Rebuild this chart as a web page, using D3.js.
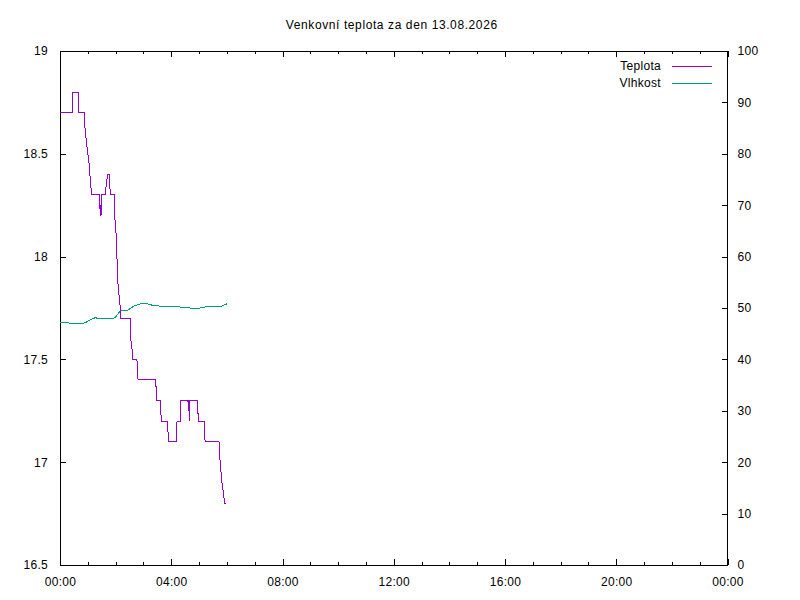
<!DOCTYPE html>
<html><head><meta charset="utf-8">
<script src="https://cdn.jsdelivr.net/npm/d3@7"></script>
<style>
html,body{margin:0;padding:0;background:#fff;}
text{font-family:"Liberation Sans",Arial,sans-serif;font-size:12px;fill:#000;letter-spacing:0.3px;}
</style></head>
<body>
<svg id="c" width="800" height="600"></svg>
<script>
const title = "Venkovní teplota za den 13.08.2026";
const seriesNames = ["Teplota", "Vlhkost"];
const seriesColors = ["#9400d3", "#009e73"];
const xTickMinutes = [0, 240, 480, 720, 960, 1200, 1440];
const xTickLabels = ["00:00", "04:00", "08:00", "12:00", "16:00", "20:00", "00:00"];
const yLeftTicks = [16.5, 17, 17.5, 18, 18.5, 19];
const yRightTicks = [0, 10, 20, 30, 40, 50, 60, 70, 80, 90, 100];
// [minute of day, temperature °C]
const teplota = [
 [0,18.7],[26,18.7],[27,18.75],[28,18.8],[39,18.8],[40,18.75],[41,18.7],
 [52,18.7],[53,18.65],[55,18.6],[57.5,18.55],[60,18.5],[63,18.45],[66,18.35],[69,18.3],
 [85,18.3],[86,18.25],[87,18.2],[88,18.25],[88.5,18.2],[90.5,18.3],[98.5,18.3],[99.5,18.35],[103,18.4],
 [107,18.4],[107.5,18.35],[108.5,18.3],[117,18.3],[118,18.2],[119.5,18.15],[121.5,18.1],
 [123.5,17.95],[125.5,17.85],[128,17.8],[130,17.75],[131.5,17.7],
 [151.5,17.7],[152.5,17.6],[155.5,17.55],[157.5,17.5],[166,17.5],[167,17.45],[168.5,17.4],
 [206.5,17.4],[207.5,17.35],[208.5,17.3],[216.5,17.3],[217.5,17.25],[218.5,17.2],
 [232.5,17.2],[233.5,17.1],[250.5,17.1],[251.5,17.15],[252.5,17.2],[259.5,17.2],[260.5,17.3],
 [276,17.3],[277,17.25],[278,17.3],[279,17.2],[280,17.3],[296.5,17.3],[297.5,17.25],[298.5,17.2],
 [311,17.2],[312,17.15],[313,17.1],[343,17.1],[344,17.05],[345.5,17.0],[347.5,16.95],
 [349.5,16.9],[352.5,16.85],[355.5,16.8],[358,16.8]
];
// [minute of day, humidity %]
const vlhkost = [
 [0,47.2],[18,47.1],[30,46.95],[41,47.0],[50,47.0],[58,47.3],[65,47.7],[75.5,48.1],
 [86,47.95],[104,47.9],[112,47.9],[119,48.1],[126,49.0],[133,49.6],[140,49.5],[147,49.6],
 [158,50.3],[169,50.7],[180,50.95],[190.5,50.75],[201,50.5],[212,50.4],[226.6,50.3],
 [244.5,50.35],[259,50.2],[273,50.1],[284,49.95],[295,49.9],[309,50.1],[316.6,50.25],
 [331,50.2],[345,50.2],[352,50.5],[360,50.8]
];

const L = 60, R = 727.5, T = 51, B = 565;
const svg = d3.select("#c");
const x = d3.scaleLinear().domain([0, 1440]).range([L, R]);
const yL = d3.scaleLinear().domain([16.5, 19]).range([B, T]);
const yR = d3.scaleLinear().domain([0, 100]).range([B, T]);

// title
svg.append("text").attr("x", (L + R) / 2 - 2).attr("y", 29).attr("text-anchor", "middle")
  .style("letter-spacing", "0.6px").text(title);

// minor x ticks (hourly) top & bottom
const minor = d3.range(0, 1441, 60).filter(m => m % 240 !== 0);
const gAx = svg.append("g").attr("stroke", "#000").attr("stroke-width", 1);
minor.forEach(m => {
  const xp = Math.round(x(m)) + 0.5;
  gAx.append("line").attr("x1", xp).attr("x2", xp).attr("y1", B).attr("y2", B - 3);
  gAx.append("line").attr("x1", xp).attr("x2", xp).attr("y1", T).attr("y2", T + 3);
});

// bottom axis
const xAxis = d3.axisBottom(x).tickValues(xTickMinutes)
  .tickFormat((d, i) => xTickLabels[i]).tickSize(-6).tickSizeOuter(0).tickPadding(12);
const gx = svg.append("g").attr("transform", `translate(0,${B})`).call(xAxis);
// top axis (mirror ticks, no labels)
const gxt = svg.append("g").attr("transform", `translate(0,${T})`)
  .call(d3.axisTop(x).tickValues(xTickMinutes).tickFormat("").tickSize(-6).tickSizeOuter(0));
// left axis
const gl = svg.append("g").attr("transform", `translate(${L},0)`)
  .call(d3.axisLeft(yL).tickValues(yLeftTicks).tickFormat(d3.format("~g")).tickSize(-6).tickSizeOuter(0).tickPadding(12));
// right axis
const gr = svg.append("g").attr("transform", `translate(${R},0)`)
  .call(d3.axisRight(yR).tickValues(yRightTicks).tickFormat(d3.format("d")).tickSize(-6).tickSizeOuter(0).tickPadding(10));

[gx, gxt, gl, gr].forEach(g => {
  g.select(".domain").remove();
  g.selectAll("text").attr("font-family", "Liberation Sans, Arial, sans-serif").attr("font-size", 12).attr("fill", "#000");
  g.selectAll("line").attr("stroke", "#000").attr("shape-rendering", "crispEdges");
});

// frame
svg.append("rect").attr("x", L).attr("y", T).attr("width", R - L).attr("height", B - T)
  .attr("fill", "none").attr("stroke", "#000").attr("stroke-width", 1).attr("shape-rendering", "crispEdges");

// lines
const lineT = d3.line().x(d => x(d[0])).y(d => yL(d[1]));
const lineH = d3.line().x(d => x(d[0])).y(d => yR(d[1]));
svg.append("path").datum(vlhkost).attr("d", lineH).attr("fill", "none")
  .attr("stroke", seriesColors[1]).attr("stroke-width", 1).attr("shape-rendering", "crispEdges");
svg.append("path").datum(teplota).attr("d", lineT).attr("fill", "none")
  .attr("stroke", seriesColors[0]).attr("stroke-width", 1).attr("shape-rendering", "crispEdges");

// legend
const legY = [66, 83];
seriesNames.forEach((n, i) => {
  svg.append("text").attr("x", 661).attr("y", legY[i]).attr("dy", "0.35em")
    .attr("text-anchor", "end").text(n);
  svg.append("line").attr("x1", 672).attr("x2", 712).attr("y1", legY[i] + 0.5).attr("y2", legY[i] + 0.5)
    .attr("stroke", seriesColors[i]).attr("stroke-width", 1).attr("shape-rendering", "crispEdges");
});
</script>
</body></html>
